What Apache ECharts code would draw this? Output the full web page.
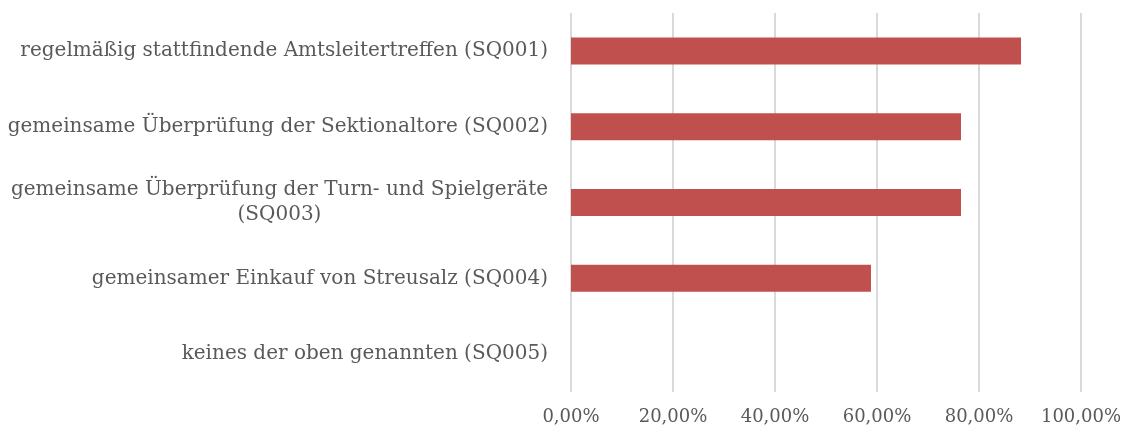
<!DOCTYPE html>
<html>
<head>
<meta charset="utf-8">
<script src="https://cdn.jsdelivr.net/npm/echarts@6/dist/echarts.min.js"></script>
<style>
  html, body { margin: 0; padding: 0; background: #fff; }
  #chart { width: 1131px; height: 430px; }
</style>
</head>
<body>
<div id="chart"></div>
<script>
const categories = [
  'regelmäßig stattfindende Amtsleitertreffen (SQ001)',
  'gemeinsame Überprüfung der Sektionaltore (SQ002)',
  'gemeinsame Überprüfung der Turn- und Spielgeräte (SQ003)',
  'gemeinsamer Einkauf von Streusalz (SQ004)',
  'keines der oben genannten (SQ005)'
]
const values = [88.24, 76.47, 76.47, 58.82, 0]
const ticks = [0, 20, 40, 60, 80, 100]

const chart = echarts.init(document.getElementById('chart'))
const font = 'DejaVu Serif'

const option = {
  animation: false,
  grid: { left: 571, right: 50, top: 13, bottom: 38 },
  xAxis: {
    type: 'value',
    min: ticks[0],
    max: ticks[ticks.length - 1],
    interval: 20,
    axisLine: { show: false },
    axisTick: { show: false },
    splitLine: { lineStyle: { color: '#d9d9d9', width: 2 } },
    axisLabel: {
      margin: 16,
      color: '#595959',
      fontFamily: font,
      fontSize: 18,
      formatter: function (v) {
        return v.toFixed(2).replace('.', ',') + '%'
      }
    }
  },
  yAxis: {
    type: 'category',
    inverse: true,
    data: categories,
    axisLine: { show: false },
    axisTick: { show: false },
    axisLabel: {
      margin: 23,
      color: '#595959',
      fontFamily: font,
      fontSize: 20,
      lineHeight: 25,
      // lange Beschriftung umbrechen, zweite Zeile zentriert
      formatter: function (v) {
        if (v.length > 52) {
          const i = v.lastIndexOf(' (')
          return '{a|' + v.slice(0, i) + '}\n{b|' + v.slice(i + 1) + '}'
        }
        return v
      },
      rich: {
        a: { color: '#595959', fontFamily: font, fontSize: 20, lineHeight: 25 },
        b: { color: '#595959', fontFamily: font, fontSize: 20, lineHeight: 25, align: 'center' }
      }
    }
  },
  series: [
    {
      type: 'bar',
      data: values,
      barWidth: 27,
      itemStyle: { color: '#c0504d' }
    }
  ]
}
chart.setOption(option)
</script>
</body>
</html>
